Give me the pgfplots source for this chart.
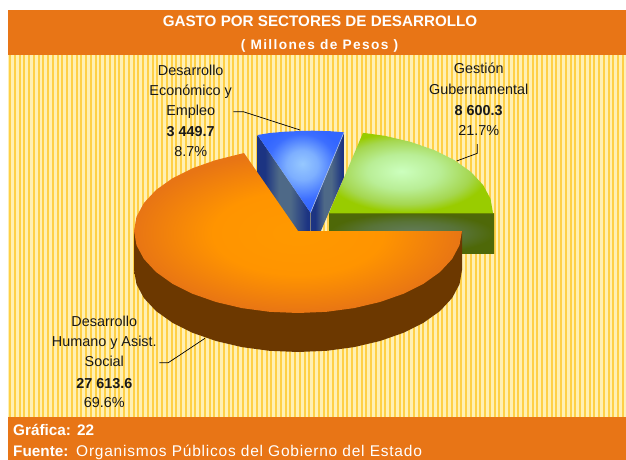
\documentclass[border=0pt]{standalone}
\usepackage{pgfplots}
\pgfplotsset{compat=1.18}
\usepackage{fontspec}
\setmainfont{Liberation Sans}
\definecolor{hdr}{RGB}{232,117,22}
\definecolor{pale}{RGB}{255,240,180}
\definecolor{gold}{RGB}{255,208,70}
\definecolor{ob}{RGB}{255,153,0}
\definecolor{om}{RGB}{255,148,0}
\definecolor{oe}{RGB}{232,117,20}
\definecolor{g0}{RGB}{204,255,190}
\definecolor{g1}{RGB}{185,238,150}
\definecolor{g2}{RGB}{165,215,80}
\definecolor{g3}{RGB}{153,204,0}
\definecolor{b0}{RGB}{150,200,255}
\definecolor{b1}{RGB}{125,175,255}
\definecolor{b2}{RGB}{60,110,255}
\definecolor{b3}{RGB}{51,102,255}
\definecolor{w0}{RGB}{100,125,95}
\definecolor{w1}{RGB}{88,115,55}
\definecolor{w2}{RGB}{78,104,8}
\definecolor{wtop}{RGB}{105,135,0}
\definecolor{bd}{RGB}{28,52,130}
\definecolor{bg}{RGB}{78,105,135}
\definecolor{brd}{RGB}{108,56,0}
\definecolor{brm}{RGB}{122,68,0}
\definecolor{bline}{RGB}{170,190,230}
\pgfdeclareradialshading{orangetop}{\pgfpoint{0bp}{0bp}}{color(0bp)=(ob);color(13bp)=(om);color(25bp)=(oe);color(50bp)=(oe)}
\pgfdeclareradialshading{greentop}{\pgfpoint{-3bp}{1bp}}{color(0bp)=(g0);color(11bp)=(g1);color(20bp)=(g2);color(25bp)=(g3);color(50bp)=(g3)}
\pgfdeclareradialshading{bluetop}{\pgfpoint{1bp}{5bp}}{color(0bp)=(b0);color(9bp)=(b1);color(20bp)=(b2);color(25bp)=(b3);color(50bp)=(b3)}
\pgfdeclareradialshading{greenwall}{\pgfpoint{0bp}{0bp}}{color(0bp)=(w0);color(15bp)=(w1);color(25bp)=(w2);color(50bp)=(w2)}
\pgfdeclarehorizontalshading{wallshade}{100bp}{color(0bp)=(bd);color(32bp)=(bd);color(45bp)=(bg);color(56bp)=(bg);color(72bp)=(bd);color(100bp)=(bd)}
\newcommand{\lab}[4][]{\node[anchor=base,inner sep=0pt,text=black!90,font=\fontsize{14.4}{16}\selectfont#1] at (axis cs:#2,#3) {#4};}
\begin{document}
\begin{tikzpicture}
\fill[white] (0,0) rectangle (626pt,460pt);
\fill[pale] (8pt,43pt) rectangle (626pt,405pt);
\foreach \x in {0,...,129}{
  \fill[gold] ({(9+4.75*\x)*1pt},43pt) rectangle ({(11.2+4.75*\x)*1pt},405pt);
}
\begin{axis}[anchor=south west,at={(0,0)},scale only axis,width=626pt,height=460pt,
  xmin=0,xmax=626,ymin=0,ymax=460,y dir=reverse,hide axis,clip=false,
  every axis plot/.append style={no markers,draw=none}]
% header and footer bands
\addplot[fill=hdr] coordinates {(8,10)(626,10)(626,55)(8,55)} --cycle;
\addplot[fill=hdr] coordinates {(8,417)(626,417)(626,460)(8,460)} --cycle;
% Gestion Gubernamental slice
\addplot[shading=greenwall] coordinates {(329,213)(494,213)(494,253.5)(329,253.5)} --cycle;
\addplot[shading=greentop] coordinates {(329,213)(363,132.8)(385.1,135.9)(411,142)(434.4,150.2)(454.6,160.3)(471,172)(483.1,185)(490.5,198.8)(493,213)} --cycle;
\addplot[draw=wtop,line width=.8pt] coordinates {(329,213.3)(494,213.3)};
% Desarrollo Economico slice walls
\addplot[shading=wallshade,shading angle=0] coordinates {(257.5,135)(310.5,212.7)(310.5,233)(290,233)(257.5,185)} --cycle;
\addplot[shading=wallshade,shading angle=0] coordinates {(344,132.3)(310.5,212.7)(310.5,233)(320,233)(344,177)} --cycle;
\addplot[draw=gray,line width=.7pt] coordinates {(310.5,212.7)(310.5,232)};
\addplot[shading=bluetop] coordinates {(257.5,135)(270,133)(285,131.7)(300,131)(313,130.7)(330,131.2)(344,132.3)(310.5,212.7)} --cycle;
\addplot[draw=bline,line width=.6pt] coordinates {(344,132.3)(310.5,212.7)};
% Desarrollo Humano slice
\addplot[left color=brd,middle color=brm,right color=brd,shading angle=0] coordinates {(462,231)(462,270)(459.5,284.2)(452.1,298)(440,311)(423.6,322.7)(403.4,332.8)(380,341)(354.1,347.1)(326.5,350.8)(298,352)(269.5,350.8)(241.9,347.1)(216,341)(192.6,332.8)(172.4,322.7)(156,311)(143.9,298)(136.5,284.2)(134,270)(134,231)} --cycle;
\addplot[shading=orangetop] coordinates {(298,231)(462,231)(459.5,245.2)(452.1,259)(440,272)(423.6,283.7)(403.4,293.8)(380,302)(354.1,308.1)(326.5,311.8)(298,313)(269.5,311.8)(241.9,308.1)(216,302)(192.6,293.8)(172.4,283.7)(156,272)(143.9,259)(136.5,245.2)(134,231)(136.5,216.8)(143.9,203)(156,190)(172.4,178.3)(192.6,168.2)(216,160)(244,153)} --cycle;
% leader lines
\addplot[draw=black,line width=.7pt] coordinates {(233.3,111.7)(243.3,111.7)(300,130)};
\addplot[draw=black,line width=.7pt] coordinates {(456.7,161)(477.3,153.3)(477.3,144)};
\addplot[draw=black,line width=.7pt] coordinates {(159.3,362.7)(168.3,362.7)(205,338.3)};
% titles
\node[anchor=base,inner sep=0pt,text=white,font=\fontsize{15.2}{17}\selectfont\bfseries] at (axis cs:320,26.7) {GASTO POR SECTORES DE DESARROLLO};
\node[anchor=base,inner sep=0pt,text=white,font=\fontsize{13.7}{15}\selectfont\bfseries\addfontfeature{LetterSpace=10}] at (axis cs:319.5,49.3) {( Millones de Pesos )};
% data labels
\lab{190.7}{75}{Desarrollo}
\lab{190.7}{95}{Económico y}
\lab{190.7}{115.7}{Empleo}
\lab[\bfseries]{190.7}{136}{3 449.7}
\lab{190.7}{156}{8.7\%}
\lab{478.7}{73.3}{Gestión}
\lab{478.7}{94}{Gubernamental}
\lab[\bfseries]{478.7}{115}{8 600.3}
\lab{478.7}{135.3}{21.7\%}
\lab{104.3}{326.7}{Desarrollo}
\lab{104.3}{346.7}{Humano y Asist.}
\lab{104.3}{366.7}{Social}
\lab[\bfseries]{104.3}{388}{27 613.6}
\lab{104.3}{407.3}{69.6\%}
% footer
\node[anchor=base west,inner sep=0pt,text=white,font=\fontsize{15.3}{17}\selectfont\bfseries] at (axis cs:13,435) {Gráfica:};
\node[anchor=base west,inner sep=0pt,text=white,font=\fontsize{15.3}{17}\selectfont\bfseries] at (axis cs:77,435) {22};
\node[anchor=base west,inner sep=0pt,text=white,font=\fontsize{15.3}{17}\selectfont\bfseries] at (axis cs:13,456.7) {Fuente:};
\node[anchor=base west,inner sep=0pt,text=white,font=\fontsize{15.5}{17}\selectfont\addfontfeature{LetterSpace=5}] at (axis cs:76,456) {Organismos Públicos del Gobierno del Estado};
\end{axis}
\end{tikzpicture}
\end{document}
